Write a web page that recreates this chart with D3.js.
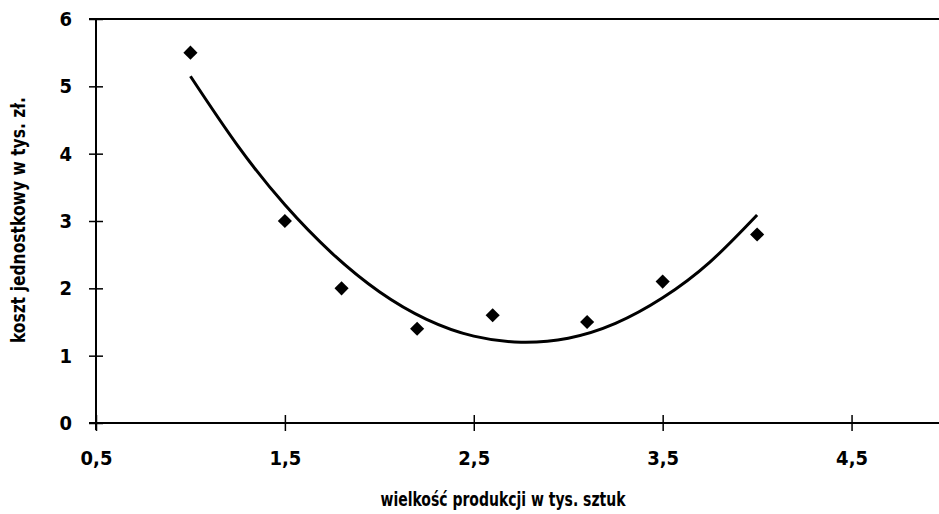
<!DOCTYPE html>
<html>
<head>
<meta charset="utf-8">
<script src="https://cdnjs.cloudflare.com/ajax/libs/d3/7.8.5/d3.min.js"></script>
<style>
    html, body { margin: 0; padding: 0; background: #fff; }
    svg { display: block; }
    text { font-family: "DejaVu Sans", sans-serif; font-stretch: condensed; font-weight: bold; fill: #000; }
</style>
</head>
<body>
<svg width="939" height="514"></svg>
<script>
// production size (thousands) vs unit cost (thousands zl)
var prodX = [1.0, 1.5, 1.8, 2.2, 2.6, 3.1, 3.5, 4.0];
var costY = [5.5, 3.0, 2.0, 1.4, 1.6, 1.5, 2.1, 2.8];

// trend line
var trendX = [1.0, 1.25, 1.5, 1.75, 2.0, 2.25, 2.5, 2.75, 3.0, 3.25, 3.5, 3.75, 4.0];
var trendY = [5.15, 4.12, 3.24, 2.52, 1.95, 1.54, 1.29, 1.20, 1.26, 1.48, 1.86, 2.39, 3.09];

var xTicks = [0.5, 1.5, 2.5, 3.5, 4.5];
var yTicks = [0, 1, 2, 3, 4, 5, 6];

(function() {
    var svg = d3.select('svg');
    var fmt = function(d) { return String(d).replace('.', ','); };

    var x = d3.scaleLinear().domain([0.5, 5]).range([96, 946]);
    var y = d3.scaleLinear().domain([0, 6]).range([423, 19]);

    // top border line
    svg.append('line')
        .attr('x1', 89).attr('x2', 939)
        .attr('y1', y(6)).attr('y2', y(6))
        .attr('stroke', '#000').attr('stroke-width', 2);

    var xAxis = svg.append('g')
        .attr('transform', 'translate(0,' + y(0) + ')')
        .call(d3.axisBottom(x).tickValues(xTicks).tickFormat(fmt).tickSizeInner(8).tickSizeOuter(0).tickPadding(20));
    xAxis.select('.domain').attr('d', 'M89,0H939').attr('stroke-width', 2);
    xAxis.selectAll('.tick line').attr('y1', -8).attr('stroke-width', 1.5);
    xAxis.selectAll('.tick text').style('font-size', '20px').style('font-family', null);

    var yAxis = svg.append('g')
        .attr('transform', 'translate(' + x(0.5) + ',0)')
        .call(d3.axisLeft(y).tickValues(yTicks).tickFormat(fmt).tickSizeInner(7).tickSizeOuter(0).tickPadding(17));
    yAxis.select('.domain').attr('d', 'M0,' + y(6) + 'V' + (y(0) + 7)).attr('stroke-width', 2);
    yAxis.selectAll('.tick line').attr('x1', 7).attr('stroke-width', 1.5);
    yAxis.selectAll('.tick text').style('font-size', '20px').style('font-family', null);

    // trend curve
    var line = d3.line()
        .x(function(d) { return x(d[0]); })
        .y(function(d) { return y(d[1]); })
        .curve(d3.curveNatural);

    svg.append('path')
        .datum(d3.zip(trendX, trendY))
        .attr('d', line)
        .attr('fill', 'none')
        .attr('stroke', '#000')
        .attr('stroke-width', 3);

    // diamonds
    var sym = d3.symbol().type(d3.symbolSquare).size(100);
    svg.selectAll('path.pt')
        .data(d3.zip(prodX, costY))
        .enter().append('path')
        .attr('class', 'pt')
        .attr('d', sym)
        .attr('transform', function(d) { return 'translate(' + x(d[0]) + ',' + y(d[1]) + ') rotate(45)'; })
        .attr('fill', '#000');

    // axis titles
    svg.append('text')
        .attr('x', 503).attr('y', 506)
        .attr('text-anchor', 'middle')
        .attr('textLength', 245)
        .attr('lengthAdjust', 'spacingAndGlyphs')
        .style('font-size', '19px')
        .text('wielkość produkcji w tys. sztuk');

    svg.append('text')
        .attr('transform', 'translate(25,220) rotate(-90)')
        .attr('text-anchor', 'middle')
        .attr('textLength', 246)
        .attr('lengthAdjust', 'spacingAndGlyphs')
        .style('font-size', '19px')
        .text('koszt jednostkowy w tys. zł.');
})();
</script>
</body>
</html>
